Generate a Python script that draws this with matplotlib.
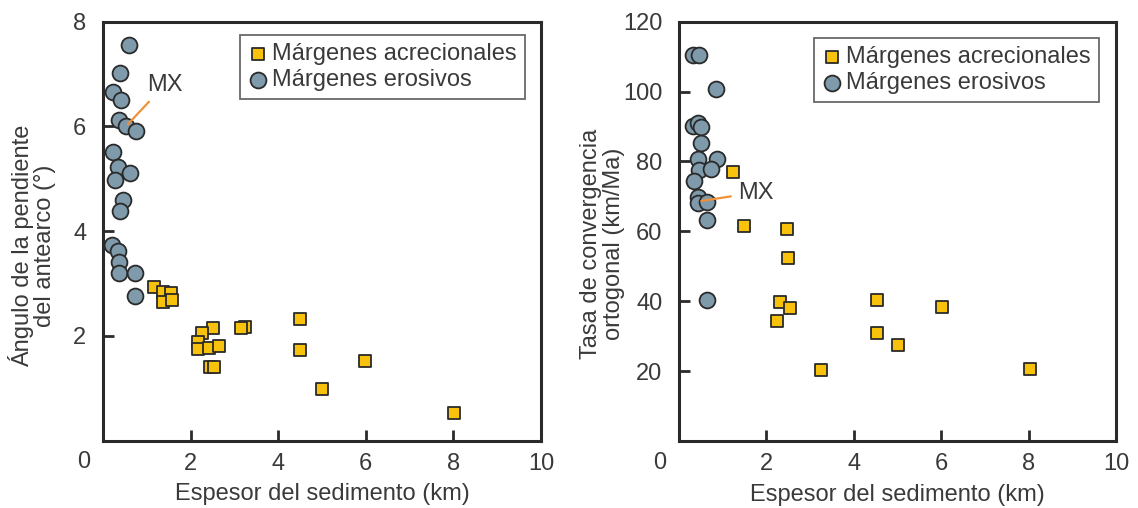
import matplotlib
matplotlib.use("Agg")
import matplotlib.pyplot as plt

plt.rcParams['font.family'] = ['Liberation Sans', 'DejaVu Sans']

# --- Data -------------------------------------------------------------------
# Panel A: forearc slope angle vs sediment thickness
slope_acc_x = [1.16, 1.36, 1.56, 1.36, 1.58, 4.50, 2.51, 2.26, 3.24, 3.16,
               2.16, 2.17, 2.42, 2.65, 4.50, 2.45, 2.54, 5.98, 5.01, 8.02]
slope_acc_y = [2.94, 2.83, 2.81, 2.65, 2.68, 2.32, 2.14, 2.06, 2.17, 2.14,
               1.89, 1.74, 1.77, 1.81, 1.73, 1.41, 1.41, 1.52, 0.98, 0.52]
slope_ero_x = [0.59, 0.38, 0.23, 0.40, 0.37, 0.53, 0.76, 0.23, 0.34, 0.61,
               0.28, 0.46, 0.38, 0.21, 0.34, 0.37, 0.36, 0.72, 0.72]
slope_ero_y = [7.55, 7.02, 6.66, 6.50, 6.11, 6.00, 5.90, 5.51, 5.23, 5.11,
               4.97, 4.59, 4.39, 3.73, 3.62, 3.41, 3.19, 3.19, 2.75]

# Panel B: orthogonal convergence rate vs sediment thickness
conv_acc_x = [1.24, 1.49, 2.48, 2.50, 2.32, 2.53, 2.25, 4.52, 6.01, 4.52,
              5.00, 3.24, 8.03]
conv_acc_y = [76.9, 61.6, 60.6, 52.3, 39.7, 38.2, 34.4, 40.4, 38.4, 30.8,
              27.5, 20.3, 20.5]
conv_ero_x = [0.32, 0.46, 0.84, 0.32, 0.43, 0.50, 0.51, 0.43, 0.86, 0.46,
              0.74, 0.34, 0.43, 0.43, 0.64, 0.63, 0.63]
conv_ero_y = [110.5, 110.5, 100.7, 90.2, 90.9, 89.8, 85.4, 80.6, 80.6, 77.6,
              77.8, 74.4, 69.9, 68.2, 68.5, 63.3, 40.4]

x_ticks = [2, 4, 6, 8, 10]
slope_ticks = [2, 4, 6, 8]
conv_ticks = [20, 40, 60, 80, 100, 120]

label_acc = "Márgenes acrecionales"
label_ero = "Márgenes erosivos"
x_label = "Espesor del sedimento (km)"
slope_label = "Ángulo de la pendiente\ndel antearco (°)"
conv_label = "Tasa de convergencia\nortogonal (km/Ma)"

# --- Style ------------------------------------------------------------------
TEXT = '#3a3a3a'
EDGE = '#2a2a2a'
SQ_FILL = '#f8c20c'
CI_FILL = '#7e9aab'
MX_COL = '#f0913a'
FS = 17

fig = plt.figure(figsize=(11.38, 5.08), dpi=100)
ax1 = fig.add_axes([103 / 1138, (508 - 440.5) / 508, 438 / 1138, 419 / 508])
ax2 = fig.add_axes([679 / 1138, (508 - 441) / 508, 437 / 1138, 419.3 / 508])


def style_axes(ax, yticks, ymax, ylabel, ylab_xy):
    ax.set_xlim(0, 10)
    ax.set_ylim(0, ymax)
    ax.set_xticks(x_ticks)
    ax.set_yticks(yticks)
    ax.set_xticklabels([str(t) for t in x_ticks])
    ax.set_yticklabels([str(t) for t in yticks])
    for sp in ax.spines.values():
        sp.set_linewidth(2.2)
        sp.set_color(EDGE)
    ax.tick_params(direction='in', length=8, width=2, color=EDGE,
                   labelsize=FS, labelcolor=TEXT)
    ax.tick_params(axis='x', pad=9)
    ax.tick_params(axis='y', pad=12)
    ax.set_xlabel(x_label, fontsize=FS, color=TEXT, labelpad=6)
    ax.set_ylabel(ylabel, fontsize=FS, color=TEXT, va='center', ha='center',
                  multialignment='center', linespacing=1.05)
    ax.yaxis.set_label_coords(*ylab_xy)
    # shared origin label sits just off the corner
    ax.annotate('0', xy=(0, 0), xycoords='axes fraction', xytext=(-19, -22),
                textcoords='offset pixels', ha='center', va='center',
                fontsize=FS, color=TEXT)


def draw_points(ax, ax_x, ax_y, er_x, er_y):
    ax.scatter(ax_x, ax_y, marker='s', s=82, facecolor=SQ_FILL,
               edgecolor=EDGE, linewidth=1.3, zorder=3, label=label_acc)
    ax.scatter(er_x, er_y, marker='o', s=130, facecolor=CI_FILL,
               edgecolor=EDGE, linewidth=1.3, zorder=3, label=label_ero)


def add_legend(ax, anchor):
    leg = ax.legend(loc='upper left', bbox_to_anchor=anchor, fontsize=FS,
                    frameon=True, fancybox=False, borderpad=0.35,
                    handlelength=0.8, handletextpad=0.2, labelspacing=0.15,
                    borderaxespad=0.0)
    leg.get_frame().set_edgecolor('#444444')
    leg.get_frame().set_linewidth(1.3)
    for t in leg.get_texts():
        t.set_color(TEXT)


draw_points(ax1, slope_acc_x, slope_acc_y, slope_ero_x, slope_ero_y)
style_axes(ax1, slope_ticks, 8, slope_label, (-0.162, 0.465))
add_legend(ax1, (0.313, 0.968))
ax1.annotate('MX', xy=(0.57, 6.04), xytext=(1.41, 6.79), fontsize=FS,
             color=TEXT, ha='center', va='center',
             arrowprops=dict(arrowstyle='-', color=MX_COL, lw=1.6,
                             shrinkA=3, shrinkB=0), zorder=5)

draw_points(ax2, conv_acc_x, conv_acc_y, conv_ero_x, conv_ero_y)
style_axes(ax2, conv_ticks, 120, conv_label, (-0.176, 0.47))
add_legend(ax2, (0.309, 0.961))
ax2.annotate('MX', xy=(0.51, 68.7), xytext=(1.75, 71.1), fontsize=FS,
             color=TEXT, ha='center', va='center',
             arrowprops=dict(arrowstyle='-', color=MX_COL, lw=1.6,
                             shrinkA=3, shrinkB=0), zorder=5)

fig.savefig('out.png', dpi=100, facecolor='white')
